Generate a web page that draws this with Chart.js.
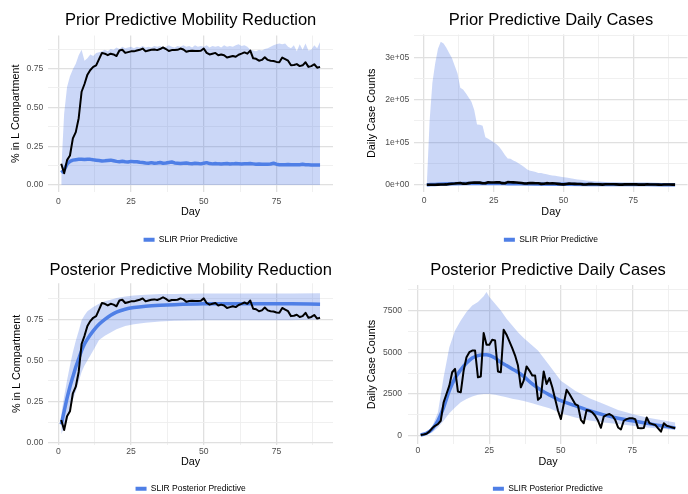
<!DOCTYPE html>
<html>
<head>
<meta charset="utf-8">
<script src="https://cdn.jsdelivr.net/npm/chart.js@4.4.1/dist/chart.umd.min.js"></script>
<style>
  html, body { margin: 0; padding: 0; background: #fff; overflow: hidden; width: 688px; height: 494px; }
  canvas { position: absolute; }
</style>
</head>
<body>
<canvas id="priorMobility" width="344" height="254" style="left:0;top:0"></canvas>
<canvas id="priorCases" width="344" height="254" style="left:344px;top:0"></canvas>
<canvas id="postMobility" width="344" height="256" style="left:0;top:247px"></canvas>
<canvas id="postCases" width="344" height="256" style="left:344px;top:247px"></canvas>
<script>
const days = Array.from({ length: 90 }, (_, i) => i + 1);

// observed data (same in prior and posterior panels)
const mobilityObserved = [
  0.137, 0.076, 0.16, 0.19, 0.30, 0.34, 0.43, 0.60, 0.65, 0.71,
  0.74, 0.76, 0.77, 0.81, 0.85, 0.845, 0.835, 0.845, 0.84, 0.83,
  0.865, 0.87, 0.85, 0.855, 0.86, 0.86, 0.865, 0.87, 0.878, 0.86,
  0.865, 0.87, 0.872, 0.868, 0.875, 0.885, 0.875, 0.862, 0.868, 0.868,
  0.87, 0.878, 0.872, 0.857, 0.862, 0.864, 0.862, 0.862, 0.864, 0.878,
  0.85, 0.84, 0.845, 0.85, 0.835, 0.84, 0.835, 0.82, 0.825, 0.83,
  0.825, 0.838, 0.845, 0.853, 0.845, 0.865, 0.815, 0.812, 0.80, 0.805,
  0.822, 0.805, 0.80, 0.798, 0.792, 0.79, 0.82, 0.81, 0.80, 0.77,
  0.772, 0.778, 0.765, 0.77, 0.79, 0.76, 0.765, 0.777, 0.755, 0.76
];
const casesObserved = [
  50, 80, 120, 250, 450, 600, 700, 900, 2000, 2500,
  3000, 3800, 4000, 2650, 2600, 3900, 4700, 5000, 5100, 5100,
  3500, 3550, 6150, 5450, 5450, 5750, 5700, 3850, 3800, 6350,
  6050, 5650, 5250, 4800, 4200, 2900, 3300, 4150, 3900, 3600,
  3600, 2150, 2300, 3850, 3100, 3450, 2900, 2200, 1500, 1000,
  1900, 2750, 2500, 2200, 1900, 1800, 950, 750, 1550, 1500,
  1400, 1200, 900, 480, 1150, 1250, 1300, 1200, 950, 500,
  380, 900, 1000, 1050, 1050, 1000, 460, 450, 470, 1100,
  750, 700, 650, 450, 250, 750, 600, 550, 500, 450
];

// prior predictive, mobility (lower bound is 0 throughout)
const priorMobUpper = [
  0.09, 0.46, 0.63, 0.70, 0.745, 0.78, 0.835, 0.87, 0.80, 0.815,
  0.84, 0.83, 0.85, 0.855, 0.86, 0.87, 0.86, 0.875, 0.87, 0.885,
  0.875, 0.89, 0.88, 0.885, 0.89, 0.88, 0.89, 0.885, 0.895, 0.885,
  0.89, 0.885, 0.895, 0.89, 0.895, 0.885, 0.89, 0.90, 0.89, 0.885,
  0.895, 0.89, 0.90, 0.89, 0.895, 0.885, 0.90, 0.89, 0.895, 0.89,
  0.90, 0.885, 0.895, 0.89, 0.895, 0.885, 0.90, 0.89, 0.895, 0.89,
  0.90, 0.905, 0.895, 0.90, 0.89, 0.87, 0.865, 0.86, 0.87, 0.865,
  0.875, 0.88, 0.89, 0.90, 0.905, 0.91, 0.905, 0.91, 0.89, 0.88,
  0.90, 0.86, 0.905, 0.87, 0.91, 0.865, 0.87, 0.90, 0.88, 0.92
];
const priorMobMean = [
  0.08, 0.095, 0.135, 0.152, 0.16, 0.163, 0.165, 0.166, 0.164, 0.166,
  0.165, 0.162, 0.16, 0.158, 0.155, 0.156, 0.158, 0.16, 0.156, 0.152,
  0.15, 0.153, 0.15, 0.148, 0.152, 0.149, 0.15, 0.146, 0.145, 0.142,
  0.14, 0.144, 0.14, 0.142, 0.145, 0.14, 0.142, 0.145, 0.148, 0.142,
  0.14, 0.138, 0.14, 0.142, 0.138, 0.137, 0.14, 0.139, 0.136, 0.14,
  0.144, 0.138, 0.136, 0.138, 0.136, 0.135, 0.137, 0.138, 0.135, 0.136,
  0.138, 0.137, 0.135, 0.136, 0.137, 0.138, 0.136, 0.134, 0.135, 0.133,
  0.134, 0.133, 0.135, 0.14, 0.134, 0.131, 0.13, 0.13, 0.132, 0.131,
  0.13, 0.131, 0.13, 0.133, 0.131, 0.13, 0.129, 0.128, 0.128, 0.128
];

// prior predictive, daily cases (lower bound is 0 throughout)
const priorCasesUpper = [
  0, 150000, 240000, 285000, 320000, 336000, 332000, 322000, 310000, 298000,
  280000, 262000, 228000, 224000, 215000, 205000, 195000, 176000, 142000, 141000,
  139000, 112000, 108000, 104000, 100000, 95000, 89000, 80000, 70000, 62000,
  61000, 57000, 54000, 50000, 46000, 41000, 36000, 33000, 32000, 30000,
  28000, 27500, 26000, 25000, 23000, 22000, 21000, 20000, 19000, 18000,
  17000, 16000, 15000, 13500, 12500, 12000, 11000, 10000, 9500, 9000,
  8500, 8000, 7500, 7000, 6500, 6000, 5500, 5200, 5000, 4800,
  4500, 4300, 4100, 4000, 3800, 3600, 3500, 3300, 3200, 3100,
  3000, 2900, 2800, 2700, 2600, 2500, 2400, 2300, 2200, 2100
];
const priorCasesMeanDays = [1, 5, 10, 15, 20, 25, 30, 40, 50, 60, 70, 80, 90];
const priorCasesMean = [0, 1500, 2600, 3100, 3200, 3000, 2700, 2000, 1400, 900, 600, 400, 300];

// posterior predictive, mobility
const postMobDays = [1, 2, 3, 4, 5, 6, 7, 8, 9, 10, 12, 14, 16, 18, 20, 23, 26, 30, 35, 40, 50, 60, 70, 80, 90];
const postMobMean = [
  0.11, 0.19, 0.27, 0.34, 0.40, 0.46, 0.51, 0.56, 0.60, 0.63, 0.68, 0.72, 0.75,
  0.775, 0.795, 0.812, 0.822, 0.83, 0.836, 0.84, 0.845, 0.846, 0.846, 0.845, 0.843
];
const postMobUpper = [
  0.17, 0.28, 0.38, 0.47, 0.55, 0.62, 0.68, 0.745, 0.775, 0.80, 0.825, 0.845, 0.86,
  0.87, 0.88, 0.89, 0.895, 0.90, 0.905, 0.905, 0.908, 0.908, 0.908, 0.908, 0.91
];
const postMobLower = [
  0.05, 0.09, 0.14, 0.20, 0.26, 0.31, 0.37, 0.43, 0.47, 0.50, 0.56, 0.625, 0.65,
  0.67, 0.69, 0.71, 0.72, 0.73, 0.738, 0.742, 0.745, 0.745, 0.745, 0.745, 0.75
];

// posterior predictive, daily cases
const postCasesDays = [1, 3, 5, 7, 9, 11, 13, 15, 17, 19, 21, 23, 24, 25, 27, 29, 31, 33, 35, 37, 40, 42, 46, 50, 55, 60, 65, 70, 75, 80, 85, 90];
const postCasesMean = [
  50, 150, 400, 900, 1700, 2700, 3450, 3950, 4350, 4650, 4800, 4850, 4850, 4820, 4650,
  4400, 4200, 4000, 3800, 3550, 3100, 2850, 2450, 2100, 1800, 1500, 1250, 1050, 900, 750, 600, 480
];
const postCasesUpper = [
  60, 200, 550, 1400, 3500, 5300, 6300, 6900, 7400, 7800, 8000, 8350, 8600, 8300, 7900,
  7500, 7000, 6600, 6200, 5850, 5400, 5100, 4200, 3300, 2700, 2250, 1900, 1550, 1300, 1100, 950, 800
];
const postCasesLower = [
  20, 60, 200, 500, 900, 1350, 1700, 2000, 2200, 2350, 2450, 2500, 2500, 2500, 2450,
  2380, 2300, 2220, 2150, 2080, 1950, 1850, 1650, 1350, 1100, 920, 800, 700, 600, 500, 420, 350
];

const dayTicks = [0, 12.5, 25, 37.5, 50, 62.5, 75, 87.5];
const mobTicks = [0, 0.125, 0.25, 0.375, 0.5, 0.625, 0.75, 0.875];
const priorCaseTicks = [0, 50000, 100000, 150000, 200000, 250000, 300000, 350000];
const postCaseTicks = [0, 1250, 2500, 3750, 5000, 6250, 7500, 8750];

const FONT = "'Liberation Sans', Arial, sans-serif";
const BLUE = '#4f7fe6';
const BAND = 'rgba(70, 110, 225, 0.28)';
const CLEAR = 'rgba(0, 0, 0, 0)';

function pts(xs, ys) {
  return xs.map((x, i) => ({ x: x, y: ys[i] }));
}

function gridStyle(isMajor) {
  return {
    drawTicks: false,
    color: (ctx) => (ctx.tick && isMajor(ctx.tick.value) ? '#e0e0e0' : '#eeeeee'),
    lineWidth: (ctx) => (ctx.tick && isMajor(ctx.tick.value) ? 1.3 : 0.9),
  };
}

function drawPanel(id, p) {
  const isMajorDay = (v) => v % 25 === 0;
  new Chart(document.getElementById(id), {
    type: 'line',
    data: {
      datasets: [
        { data: pts(p.bandDays, p.lower), borderColor: CLEAR, borderWidth: 0, pointRadius: 0, fill: false, order: 4 },
        { data: pts(p.bandDays, p.upper), borderColor: CLEAR, borderWidth: 0, pointRadius: 0, fill: '-1', backgroundColor: BAND, order: 3 },
        {
          label: p.legend,
          data: pts(p.meanDays, p.mean),
          borderColor: BLUE,
          backgroundColor: BLUE,
          borderWidth: 3.5,
          borderJoinStyle: 'round',
          pointRadius: 0,
          cubicInterpolationMode: p.smoothMean ? 'monotone' : 'default',
          tension: 0,
          order: 2,
        },
        { data: pts(days, p.observed), borderColor: '#000', borderWidth: p.obsWidth, borderJoinStyle: 'round', pointRadius: 0, order: 1 },
      ],
    },
    options: {
      responsive: false,
      animation: false,
      devicePixelRatio: 1,
      events: [],
      layout: { padding: { left: 0, right: p.padRight, top: 0, bottom: 0 } },
      plugins: {
        title: {
          display: true,
          text: p.title,
          fullSize: false,
          color: '#000',
          font: { family: FONT, size: 16.5, weight: 'normal' },
          padding: { top: p.titleTop, bottom: p.titleBottom },
        },
        legend: {
          position: 'bottom',
          fullSize: false,
          labels: {
            boxWidth: 11,
            boxHeight: 4,
            padding: 10,
            color: '#222',
            font: { family: FONT, size: 8.5 },
            generateLabels: () => [{ text: p.legend, fillStyle: BLUE, strokeStyle: BLUE, lineWidth: 0, hidden: false, datasetIndex: 2 }],
          },
        },
        tooltip: { enabled: false },
      },
      scales: {
        x: {
          type: 'linear',
          min: -3.45,
          max: 94.45,
          afterBuildTicks: (s) => { s.ticks = dayTicks.map((v) => ({ value: v })); },
          afterFit: (s) => { s.height = p.xHeight; },
          grid: gridStyle(isMajorDay),
          border: { display: false },
          ticks: {
            autoSkip: false,
            maxRotation: 0,
            padding: p.xTickPad,
            color: '#4d4d4d',
            font: { family: FONT, size: 8.6 },
            callback: (v) => (isMajorDay(v) ? String(v) : ''),
          },
          title: {
            display: true,
            text: 'Day',
            color: '#000',
            font: { family: FONT, size: 10.8 },
            padding: { top: 0, bottom: p.dayPad },
          },
        },
        y: {
          type: 'linear',
          min: p.yMin,
          max: p.yMax,
          afterBuildTicks: (s) => { s.ticks = p.yTicks.map((v) => ({ value: v })); },
          afterFit: (s) => { s.width = p.yWidth; },
          grid: gridStyle(p.yMajor),
          border: { display: false },
          ticks: {
            autoSkip: false,
            padding: p.yTickPad,
            color: '#4d4d4d',
            font: { family: FONT, size: 8.6 },
            callback: (v) => (p.yMajor(v) ? p.yFormat(v) : ''),
          },
          title: {
            display: true,
            text: p.yTitle,
            color: '#000',
            font: { family: FONT, size: 10.8 },
            padding: { top: p.yTitlePad, bottom: 0 },
          },
        },
      },
    },
  });
}

const mobMajor = (v) => Math.abs(v * 4 - Math.round(v * 4)) < 1e-9;
const mobFormat = (v) => v.toFixed(2);

drawPanel('priorMobility', {
  title: 'Prior Predictive Mobility Reduction',
  legend: 'SLIR Prior Predictive',
  yTitle: '% in L Compartment',
  bandDays: days, lower: days.map(() => 0), upper: priorMobUpper,
  meanDays: days, mean: priorMobMean, smoothMean: false,
  observed: mobilityObserved, obsWidth: 2,
  yMin: -0.045, yMax: 0.962, yTicks: mobTicks, yMajor: mobMajor, yFormat: mobFormat,
  yWidth: 48.3, padRight: 11, titleTop: 10.1, titleBottom: 5.6,
  xHeight: 33.5, xTickPad: 4, dayPad: 6.5, yTickPad: 5, yTitlePad: 9.5,
});

drawPanel('priorCases', {
  title: 'Prior Predictive Daily Cases',
  legend: 'SLIR Prior Predictive',
  yTitle: 'Daily Case Counts',
  bandDays: days, lower: days.map(() => 0), upper: priorCasesUpper,
  meanDays: priorCasesMeanDays, mean: priorCasesMean, smoothMean: true,
  observed: casesObserved, obsWidth: 2.6,
  yMin: -16700, yMax: 353000, yTicks: priorCaseTicks,
  yMajor: (v) => v % 100000 === 0,
  yFormat: (v) => (v === 0 ? '0e+00' : (v / 100000) + 'e+05'),
  yWidth: 70.4, padRight: 0.5, titleTop: 10.1, titleBottom: 4.7,
  xHeight: 33.6, xTickPad: 4, dayPad: 6.5, yTickPad: 5, yTitlePad: 21.8,
});

drawPanel('postMobility', {
  title: 'Posterior Predictive Mobility Reduction',
  legend: 'SLIR Posterior Predictive',
  yTitle: '% in L Compartment',
  bandDays: postMobDays, lower: postMobLower, upper: postMobUpper,
  meanDays: postMobDays, mean: postMobMean, smoothMean: true,
  observed: mobilityObserved, obsWidth: 2,
  yMin: -0.012, yMax: 0.97, yTicks: mobTicks, yMajor: mobMajor, yFormat: mobFormat,
  yWidth: 48.3, padRight: 11, titleTop: 13.1, titleBottom: 3.4,
  xHeight: 30, xTickPad: 1.5, dayPad: 5.5, yTickPad: 5, yTitlePad: 11,
});

drawPanel('postCases', {
  title: 'Posterior Predictive Daily Cases',
  legend: 'SLIR Posterior Predictive',
  yTitle: 'Daily Case Counts',
  bandDays: postCasesDays, lower: postCasesLower, upper: postCasesUpper,
  meanDays: postCasesDays, mean: postCasesMean, smoothMean: true,
  observed: casesObserved, obsWidth: 2,
  yMin: -490, yMax: 9020, yTicks: postCaseTicks,
  yMajor: (v) => v % 2500 === 0,
  yFormat: (v) => String(v),
  yWidth: 64, padRight: 0, titleTop: 13.4, titleBottom: 4.8,
  xHeight: 30.5, xTickPad: 1.5, dayPad: 5.5, yTickPad: 6, yTitlePad: 21.8,
});
</script>
</body>
</html>
